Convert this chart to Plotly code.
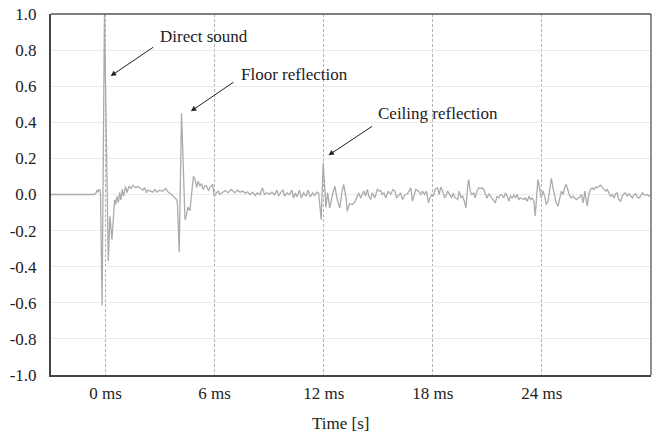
import plotly.graph_objects as go

# ---- data (time in ms, amplitude) ----
seg_a_t = [-3.0, -2.0, -1.2, -0.61, -0.51, -0.47, -0.41, -0.36, -0.28, -0.19, -0.06, 0.15, 0.24, 0.35, 0.50, 0.55, 0.62, 0.70, 0.77, 0.84, 0.92, 0.99, 1.10, 1.18, 1.29, 1.40, 1.51, 1.66, 1.78, 1.92, 2.06, 2.15, 2.25, 2.34, 2.47, 2.61, 2.71, 2.83, 2.98, 3.13, 3.31, 3.44, 3.63, 3.81, 3.92, 3.96, 4.05, 4.18, 4.37, 4.46, 4.53, 4.64, 4.77, 4.83, 4.91, 5.01, 5.10, 5.19, 5.28, 5.37, 5.47, 5.56, 5.66, 5.74, 5.89, 5.98, 6.10, 6.20, 6.29, 6.41, 6.57, 6.75, 6.90]
seg_a_v = [0, 0, 0, 0, 0.01, 0.025, 0.012, 0.03, 0.02, -0.615, 1.0, -0.37, -0.12, -0.25, -0.03, -0.055, -0.01, -0.045, 0.01, -0.03, 0.03, -0.01, 0.045, 0.01, 0.046, 0.033, 0.05, 0.038, 0.044, 0.033, 0.024, 0.038, 0.01, 0.024, 0.018, 0.013, 0.028, 0.013, 0.024, 0.018, 0.033, 0.013, 0.0, -0.018, -0.03, -0.06, -0.32, 0.45, -0.14, -0.11, -0.07, -0.09, 0.06, 0.10, 0.09, 0.04, 0.074, 0.046, 0.06, 0.028, 0.05, 0.046, 0.02, 0.04, 0.056, -0.01, 0.01, 0.018, 0.0, 0.01, 0.022, 0.01, 0.028]

seg_b_t = [7.00, 7.12, 7.25, 7.40, 7.55, 7.68, 7.80, 7.95, 8.10, 8.23, 8.35, 8.50, 8.63, 8.74, 8.87, 9.02, 9.15, 9.28, 9.43, 9.51, 9.65, 9.76, 9.85, 9.98, 10.12, 10.25, 10.34, 10.44, 10.53, 10.66, 10.77, 10.89, 11.03, 11.14, 11.26, 11.39, 11.50, 11.63, 11.72, 11.86, 11.97, 12.06, 12.12, 12.21, 12.33, 12.46, 12.61, 12.74, 12.88, 13.01, 13.10, 13.24]
seg_b_v = [0.019, 0.009, 0.024, 0.013, 0.019, 0.006, 0.015, 0.0, 0.013, -0.006, 0.009, 0.0, 0.037, 0.0, 0.009, 0.002, 0.013, -0.002, 0.024, -0.009, 0.013, 0.024, -0.009, 0.009, 0.0, 0.024, -0.019, 0.009, -0.013, 0.024, -0.019, 0.009, -0.009, 0.024, -0.013, 0.009, -0.006, 0.013, 0.009, -0.14, 0.176, -0.02, -0.07, 0.01, -0.074, -0.01, 0.046, -0.028, -0.074, 0.018, 0.056, -0.028]

seg_c_t = [13.29, 13.42, 13.57, 13.71, 13.84, 13.93, 14.03, 14.12, 14.21, 14.30, 14.40, 14.48, 14.58, 14.67, 14.80, 14.95, 15.04, 15.13, 15.22, 15.31, 15.41, 15.55, 15.68, 15.81, 15.92, 16.01, 16.14, 16.23, 16.33, 16.42, 16.51, 16.60, 16.69, 16.79, 16.88, 16.97, 17.06, 17.21, 17.34, 17.43, 17.54, 17.65, 17.76, 17.84, 17.95, 18.02, 18.13, 18.26, 18.35, 18.44, 18.54, 18.65, 18.72, 18.81, 18.94, 19.05, 19.12, 19.23, 19.37, 19.45, 19.55]
seg_c_v = [-0.093, -0.052, -0.056, -0.041, -0.009, 0.009, -0.019, 0.0, 0.019, -0.009, 0.028, -0.009, -0.028, 0.009, -0.019, 0.028, 0.019, 0.022, 0.0, 0.009, -0.019, 0.019, 0.0, 0.028, 0.019, -0.019, -0.004, 0.009, -0.028, -0.009, 0.0, 0.004, 0.019, 0.037, -0.037, 0.0, 0.028, 0.019, 0.0, 0.019, 0.0, 0.019, -0.046, -0.019, 0.0, -0.009, 0.028, 0.037, 0.0, 0.041, 0.019, -0.019, -0.009, 0.019, 0.0, -0.019, 0.009, -0.019, -0.028, 0.019, -0.019]

seg_d_t = [19.64, 19.73, 19.82, 19.92, 19.97, 20.06, 20.15, 20.25, 20.32, 20.43, 20.52, 20.61, 20.71, 20.80, 20.89, 20.98, 21.08, 21.17, 21.26, 21.35, 21.44, 21.53, 21.63, 21.72, 21.81, 21.90, 21.99, 22.09, 22.18, 22.27, 22.36, 22.46, 22.55, 22.64, 22.73, 22.82, 22.92, 23.01, 23.10, 23.19, 23.29, 23.37, 23.47, 23.56, 23.63, 23.71, 23.78, 23.87, 23.96, 24.06, 24.15, 24.24, 24.33, 24.42, 24.52, 24.61, 24.70, 24.79, 24.89, 24.98, 25.07, 25.16, 25.25, 25.34, 25.44, 25.53, 25.62, 25.71, 25.80, 25.90, 25.99, 26.08]
seg_d_v = [-0.009, -0.037, -0.074, 0.046, 0.083, 0.019, 0.0, 0.009, -0.019, 0.019, 0.037, 0.033, 0.037, 0.028, 0.009, -0.019, 0.004, -0.009, -0.019, -0.037, -0.046, -0.009, -0.019, 0.0, -0.004, -0.019, 0.009, -0.009, -0.037, -0.009, -0.019, -0.004, -0.019, 0.0, -0.028, -0.019, -0.022, -0.028, -0.019, -0.037, -0.009, -0.028, -0.019, -0.037, -0.12, 0.019, 0.083, 0.037, -0.019, 0.019, -0.009, -0.056, -0.037, 0.019, 0.089, 0.037, -0.009, -0.046, -0.065, -0.019, 0.019, 0.0, 0.037, 0.056, 0.019, -0.009, -0.019, -0.009, -0.019, -0.028, -0.019, -0.015]

seg_e_t = [26.17, 26.27, 26.36, 26.41, 26.49, 26.58, 26.67, 26.76, 26.85, 26.95, 27.04, 27.13, 27.22, 27.32, 27.41, 27.50, 27.59, 27.68, 27.77, 27.87, 27.96, 28.05, 28.14, 28.23, 28.33, 28.42, 28.51, 28.60, 28.70, 28.79, 28.88, 28.97, 29.06, 29.16, 29.25, 29.34, 29.43, 29.53, 29.62, 29.71, 29.80, 29.89, 29.98]
seg_e_v = [0.0, -0.046, 0.019, -0.009, -0.065, 0.0, 0.028, 0.037, 0.028, 0.041, 0.037, 0.046, 0.052, 0.041, 0.028, 0.019, 0.028, 0.009, -0.009, 0.0, -0.019, 0.004, 0.009, -0.028, -0.037, -0.009, 0.004, 0.009, -0.009, 0.004, -0.009, -0.019, -0.004, 0.004, -0.015, -0.019, -0.009, 0.009, 0.0, -0.004, 0.0, -0.009, -0.004]

y_tick_vals = [-1.0, -0.8, -0.6, -0.4, -0.2, 0.0, 0.2, 0.4, 0.6, 0.8, 1.0]
y_tick_text = ["-1.0", "-0.8", "-0.6", "-0.4", "-0.2", "0.0", "0.2", "0.4", "0.6", "0.8", "1.0"]
x_tick_vals = [0, 6, 12, 18, 24]
x_tick_text = ["0 ms", "6 ms", "12 ms", "18 ms", "24 ms"]

# labelled events: (text, arrow head, arrow tail, text anchor)
labels = ["Direct sound", "Floor reflection", "Ceiling reflection"]
head_t = [0.28, 4.69, 12.26]
head_v = [0.656, 0.461, 0.217]
tail_t = [2.71, 7.12, 14.74]
tail_v = [0.822, 0.628, 0.383]
text_t = [2.88, 7.35, 14.90]
text_v = [0.878, 0.667, 0.45]

segs_t = [seg_a_t, seg_b_t, seg_c_t, seg_d_t, seg_e_t]
segs_v = [seg_a_v, seg_b_v, seg_c_v, seg_d_v, seg_e_v]
t_all, v_all = [], []
for ts, vs in zip(segs_t, segs_v):
    assert len(ts) == len(vs)
    t_all += ts
    v_all += vs

FONT = "Liberation Serif"
FS = 17

fig = go.Figure()
fig.add_trace(go.Scatter(x=t_all, y=v_all, mode="lines",
                         line=dict(color="#ababab", width=1.3),
                         showlegend=False, hoverinfo="skip"))

for i, lab in enumerate(labels):
    fig.add_annotation(x=head_t[i], y=head_v[i], ax=tail_t[i], ay=tail_v[i],
                       xref="x", yref="y", axref="x", ayref="y",
                       text="", showarrow=True, arrowhead=2, arrowsize=1.1,
                       arrowwidth=1, arrowcolor="#222", standoff=0)
    fig.add_annotation(x=text_t[i], y=text_v[i], xref="x", yref="y",
                       text=lab, showarrow=False, xanchor="left", yanchor="middle",
                       font=dict(family=FONT, size=FS, color="#222"))

fig.add_annotation(x=0.482, y=-0.133, xref="paper", yref="paper", text="Time [s]",
                   showarrow=False, xanchor="center", yanchor="middle",
                   font=dict(family=FONT, size=FS, color="#222"))

# thin top/right frame
fig.add_shape(type="line", xref="paper", yref="paper", x0=0, x1=1, y0=1, y1=1,
              line=dict(color="#555", width=1.3))
fig.add_shape(type="line", xref="paper", yref="paper", x0=1, x1=1, y0=0, y1=1,
              line=dict(color="#555", width=1.3))

fig.update_layout(
    width=657, height=434,
    margin=dict(l=51, r=6, t=14, b=59),
    paper_bgcolor="white", plot_bgcolor="white",
    font=dict(family=FONT, size=FS, color="#222"),
    xaxis=dict(range=[-3, 30], tickmode="array", tickvals=x_tick_vals, ticktext=x_tick_text,
               showgrid=True, gridcolor="#b3b3b3", gridwidth=1, griddash="3px,2px",
               zeroline=False, showline=True, linecolor="#444", linewidth=2,
               ticks="outside", ticklen=2, tickcolor="rgba(0,0,0,0)",
               tickfont=dict(family=FONT, size=FS, color="#222")),
    yaxis=dict(range=[-1, 1], tickmode="array", tickvals=y_tick_vals, ticktext=y_tick_text,
               showgrid=True, gridcolor="#ebebeb", gridwidth=1,
               zeroline=False, showline=True, linecolor="#444", linewidth=2,
               ticks="outside", ticklen=9, tickcolor="rgba(0,0,0,0)",
               tickfont=dict(family=FONT, size=FS, color="#222")),
)

fig.write_html("out.html")
